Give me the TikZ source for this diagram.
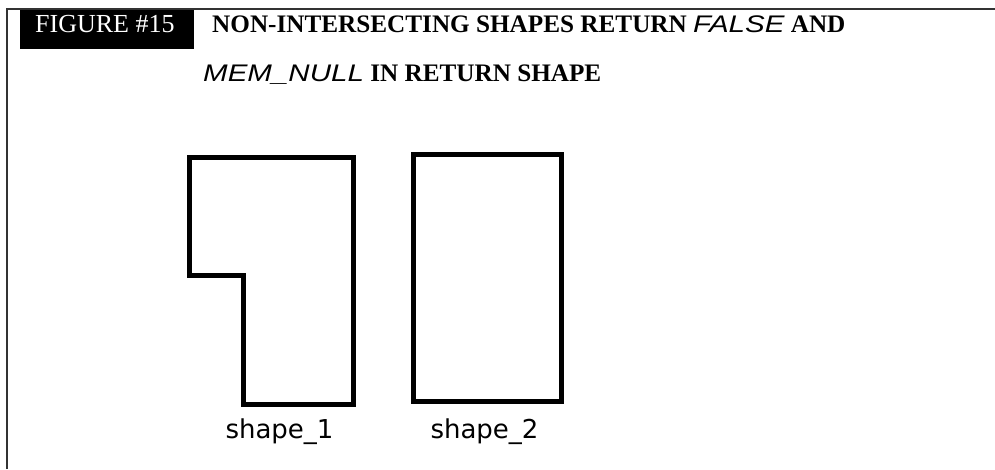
\documentclass[tikz,border=0pt]{standalone}
\usepackage{fontspec}
\setmainfont{Liberation Serif}
\newfontfamily\sansit{Liberation Sans Italic}[FakeStretch=1.23]
\newfontfamily\labelfont{DejaVu Sans}
\newcommand{\codeword}[1]{{\sansit\mdseries\fontsize{24}{24}\selectfont #1}}

\begin{document}
\begin{tikzpicture}[x=1pt,y=-1pt,
		heading/.style={anchor=base west,inner sep=0pt,font=\fontsize{25.2}{25}\selectfont\bfseries},
		outline/.style={line width=5pt,line join=miter},
		caption/.style={anchor=base,inner sep=0pt,font=\fontsize{26}{26}\labelfont}]
	
	\useasboundingbox (0,0) rectangle (995,469);
	\draw[line width=2pt,black!80] (7,469) -- (7,9) -- (995,9);
	
	\fill (20,10) rectangle (194,49);
	\node[anchor=base west,inner sep=0pt,text=white,font=\fontsize{26}{26}\selectfont] (fignum) at (35,32) {FIGURE \#15};
	
	\node[heading] (title1) at (212,32) {NON-INTERSECTING SHAPES RETURN \codeword{FALSE} AND};
	\node[heading] (title2) at (203,81) {\codeword{MEM\_NULL} IN RETURN SHAPE};
	
	% shape_1 has a notch cut out at the lower left
	\draw[outline] (189,157) -- (353,157) -- (353,404) -- (243,404) -- (243,275) -- (189,275) -- cycle;
	\draw[outline] (413,154) rectangle (561,401);
	
	\coordinate (s1) at (279.5,438);
	\coordinate (s2) at (484.5,438);
	\node[caption] (label1) at (s1) {shape\_1};
	\node[caption] (label2) at (s2) {shape\_2};
\end{tikzpicture}
\end{document}
